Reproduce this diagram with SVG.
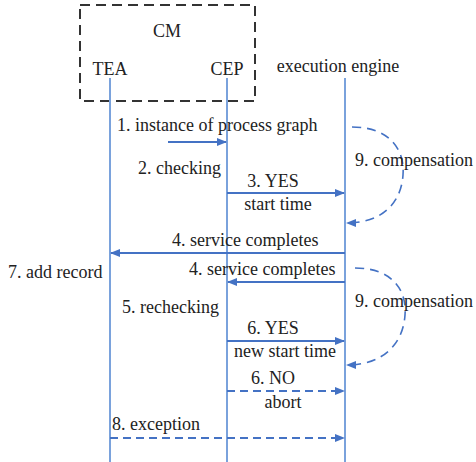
<svg xmlns="http://www.w3.org/2000/svg" width="476" height="462" viewBox="0 0 476 462">
<style>
text{font-family:'Liberation Serif','Times New Roman','DejaVu Serif',serif;font-size:18px;fill:#222}
.life{stroke:#7aa2dc;stroke-width:2;fill:none}
.msg{stroke:#4472c4;stroke-width:2;fill:none;marker-end:url(#ah)}
.dash{stroke-dasharray:8,5}
.arc{stroke:#4472c4;stroke-width:1.6;fill:none;stroke-dasharray:9,6;marker-end:url(#ah)}
</style>
<defs>
<marker id="ah" markerWidth="10" markerHeight="8" refX="9" refY="4" orient="auto" markerUnits="userSpaceOnUse">
<path d="M0,0 L10,4 L0,8 Z" fill="#4472c4"/>
</marker>
</defs>
<rect width="476" height="462" fill="#fff"/>
<g id="cm">
<rect x="80" y="5" width="175" height="96" fill="none" stroke="#333" stroke-width="2" stroke-dasharray="10,6"/>
<text x="167" y="37" text-anchor="middle">CM</text>
</g>
<g id="tea">
<text x="110" y="75" text-anchor="middle">TEA</text>
<line class="life" x1="110" y1="78" x2="110" y2="462"/>
</g>
<g id="cep">
<text x="227" y="75" text-anchor="middle">CEP</text>
<line class="life" x1="227" y1="78" x2="227" y2="462"/>
</g>
<g id="engine">
<text x="338" y="72" text-anchor="middle">execution engine</text>
<line class="life" x1="345" y1="78" x2="345" y2="462"/>
</g>
<g id="connectors">
<line class="msg" x1="168" y1="142" x2="226" y2="142"/>
<line class="msg" x1="227" y1="193" x2="344" y2="193"/>
<line class="msg" x1="345" y1="253" x2="111" y2="253"/>
<line class="msg" x1="345" y1="282" x2="228" y2="282"/>
<line class="msg" x1="227" y1="341" x2="344" y2="341"/>
<line class="msg dash" x1="227" y1="391" x2="344" y2="391"/>
<line class="msg dash" x1="110" y1="438" x2="344" y2="438"/>
<path class="arc" d="M352,127 C390,127 405,150 403,175 C401,205 380,223 347,223"/>
<path class="arc" d="M355,268 C392,268 407,290 405,315 C403,345 382,365 347,365"/>
</g>
<g id="labels">
<text x="117" y="131">1. instance of process graph</text>
<text x="138" y="174">2. checking</text>
<text x="273" y="187" text-anchor="middle">3. YES</text>
<text x="278" y="210" text-anchor="middle">start time</text>
<text x="355" y="166">9. compensation</text>
<text x="172" y="246">4. service completes</text>
<text x="189" y="275">4. service completes</text>
<text x="8" y="278">7. add record</text>
<text x="122" y="313">5. rechecking</text>
<text x="273" y="334" text-anchor="middle">6. YES</text>
<text x="285" y="357" text-anchor="middle">new start time</text>
<text x="355" y="307">9. compensation</text>
<text x="273" y="384" text-anchor="middle">6. NO</text>
<text x="283" y="408" text-anchor="middle">abort</text>
<text x="112" y="430">8. exception</text>
</g>
</svg>
